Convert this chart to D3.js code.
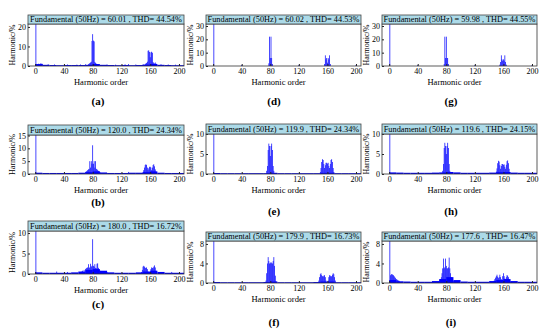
<!DOCTYPE html>
<html lang="en">
<head>
  <meta charset="utf-8">
  <title>Harmonic spectra</title>
  <script src="https://cdn.jsdelivr.net/npm/d3@7"></script>
  <style>
    body { margin: 0; background: #fff; }
    svg text { font-family: "Liberation Serif", "Times New Roman", serif; fill: #000; }
  </style>
</head>
<body>
<div id="chart"></div>
<script>

// panel ids and header texts (left column a-c, middle d-f, right g-i)
var panelIds = ["a", "b", "c", "d", "e", "f", "g", "h", "i"];
var titleTexts = [
  "Fundamental (50Hz) = 60.01 , THD= 44.54%",
  "Fundamental (50Hz) = 120.0 , THD= 24.34%",
  "Fundamental (50Hz) = 180.0 , THD= 16.72%",
  "Fundamental (50Hz) = 60.02 , THD= 44.53%",
  "Fundamental (50Hz) = 119.9 , THD= 24.34%",
  "Fundamental (50Hz) = 179.9 , THD= 16.73%",
  "Fundamental (50Hz) = 59.98 , THD= 44.55%",
  "Fundamental (50Hz) = 119.6 , THD= 24.15%",
  "Fundamental (50Hz) = 177.6 , THD= 16.47%"
];
var xTicks = [0, 40, 80, 120, 160, 200];
var yTicks = [[0, 10, 20], [0, 5, 10, 15], [0, 5, 10], [0, 10, 20, 30], [0, 5, 10], [0, 4, 8], [0, 10, 20, 30], [0, 5, 10], [0, 4, 8]];
var yTops = [21.5, 15.2, 10.5, 31.5, 10, 8.6, 31.5, 10, 8.6];

// noise floor, one value per 10 harmonic orders (0-10, 10-20, ... 200-210)
var floorA = [1.0, 0.6, 0.5, 0.4, 0.5, 0.5, 0.5, 0.6, 1.0, 0.6, 0.5, 0.4, 0.5, 0.4, 0.5, 0.7, 1.0, 0.6, 0.5, 0.4, 0.4];
var floorB = [0.5, 0.4, 0.4, 0.4, 0.4, 0.4, 0.5, 0.7, 1.0, 0.6, 0.4, 0.4, 0.4, 0.5, 0.5, 0.7, 1.0, 0.5, 0.4, 0.4, 0.4];
var floorC = [0.4, 0.3, 0.3, 0.3, 0.3, 0.4, 0.6, 1.0, 1.2, 0.8, 0.4, 0.3, 0.3, 0.3, 0.4, 0.6, 0.8, 0.5, 0.3, 0.3, 0.3];
var floorD = [0, 0, 0, 0, 0, 0, 0, 0, 0, 0, 0, 0, 0, 0, 0, 0, 0, 0, 0, 0, 0];
var floorE = [0.25, 0.2, 0.2, 0.2, 0.2, 0.2, 0.2, 0.2, 0.3, 0.2, 0.2, 0.2, 0.2, 0.2, 0.2, 0.3, 0.3, 0.2, 0.2, 0.2, 0.2];
var floorF = [0.2, 0.15, 0.15, 0.15, 0.15, 0.15, 0.15, 0.2, 0.3, 0.15, 0.15, 0.15, 0.15, 0.15, 0.2, 0.3, 0.3, 0.15, 0.15, 0.15, 0.15];
var floorG = [0, 0, 0, 0, 0, 0, 0, 0, 0, 0, 0, 0, 0, 0, 0, 0, 0, 0, 0, 0, 0];
var floorH = [0.4, 0.35, 0.3, 0.3, 0.3, 0.3, 0.35, 0.4, 0.5, 0.4, 0.3, 0.3, 0.3, 0.3, 0.35, 0.45, 0.5, 0.35, 0.3, 0.3, 0.3];
var floorI = [0.6, 0.35, 0.3, 0.25, 0.25, 0.25, 0.4, 0.8, 1.2, 0.6, 0.3, 0.25, 0.25, 0.25, 0.4, 0.6, 0.8, 0.4, 0.25, 0.25, 0.25];

// spectra: [harmonic order, magnitude in %]
var specA = [[1, 100], [5, 1.2], [8, 1.5], [10, 1.1], [18, 0.9], [27, 0.8], [45, 0.8], [58, 0.7], [63, 0.8], [70, 0.9],
  [74, 0.9], [75, 1.1], [76, 1.5], [77, 1.8], [78, 2.2], [79, 12.8], [80, 16.3], [81, 13], [82, 12.6], [83, 2.1], [84, 1.6], [85, 1.2], [86, 0.9],
  [100, 0.8], [112, 0.7], [125, 0.9], [130, 1.0], [140, 0.8], [150, 0.9],
  [153, 1.0], [154, 1.3], [155, 1.6], [156, 2.2], [157, 7.8], [158, 8.0], [159, 7.2], [160, 4.5], [161, 7.0], [162, 7.3], [163, 6.8],
  [164, 2.0], [165, 1.5], [166, 1.3], [167, 1.8], [168, 1.2], [175, 0.9], [185, 0.8], [195, 0.7]];
var specB = [[1, 100], [130, 0.8],
  [70, 0.8], [71, 1.0], [72, 1.2], [73, 1.5], [74, 1.8], [75, 2.0], [76, 5.0], [77, 2.5], [78, 5.0], [79, 4.0], [80, 11.2],
  [81, 4.0], [82, 5.0], [83, 2.5], [84, 5.0], [85, 2.0], [86, 1.8], [87, 1.5], [88, 1.2], [89, 1.0], [90, 0.8],
  [150, 0.8], [151, 1.5], [152, 2.5], [153, 3.5], [154, 3.8], [155, 3.5], [156, 2.5], [157, 1.5], [158, 2.2], [159, 2.8],
  [160, 2.8], [161, 2.5], [162, 1.5], [163, 2.5], [164, 3.5], [165, 3.8], [166, 3.0], [167, 1.8], [168, 1.0]];
var specC = [[1, 100], [30, 0.6], [45, 0.5], [62, 0.5], [64, 0.6], [66, 0.8], [68, 1.0],
  [70, 1.2], [71, 1.4], [72, 1.5], [73, 1.6], [74, 2.4], [75, 1.5], [76, 1.6], [77, 2.5], [78, 1.8], [79, 2.0], [80, 8.5],
  [81, 2.0], [82, 1.8], [83, 2.4], [84, 1.5], [85, 1.4], [86, 2.5], [87, 2.6], [88, 1.5], [89, 1.0], [90, 0.8], [92, 0.6], [100, 0.5],
  [148, 0.5], [149, 1.0], [150, 1.8], [151, 2.0], [152, 1.8], [153, 1.5], [154, 1.5], [155, 1.6], [156, 1.2], [157, 0.6],
  [158, 0.5], [160, 0.6], [161, 1.2], [162, 1.6], [163, 1.5], [164, 1.4], [165, 1.8], [166, 2.1], [167, 1.6], [168, 0.8], [190, 0.5]];
var specD = [[1, 100], [40, 0.8], [120, 0.8], [200, 0.8],
  [78, 2.0], [79, 22], [80, 6.0], [81, 22], [82, 6.0], [83, 1.5],
  [156, 1.5], [157, 8.0], [158, 5.0], [159, 6.0], [160, 2.5], [161, 6.0], [162, 5.0], [163, 8.0], [164, 1.5]];
var specE = [[1, 100],
  [75, 0.8], [76, 2.0], [77, 6.0], [78, 7.6], [79, 7.0], [80, 4.5], [81, 7.0], [82, 7.6], [83, 6.0], [84, 2.0], [85, 0.8],
  [150, 0.5], [151, 1.5], [152, 3.0], [153, 3.7], [154, 3.5], [155, 2.5], [156, 1.5], [157, 2.2], [158, 2.8], [159, 2.8],
  [160, 2.6], [161, 2.8], [162, 2.0], [163, 1.5], [164, 2.5], [165, 3.5], [166, 3.7], [167, 3.0], [168, 1.5], [169, 0.5]];
var specF = [[1, 100],
  [74, 0.5], [75, 2.0], [76, 4.0], [77, 5.3], [78, 4.5], [79, 4.0], [80, 4.2], [81, 4.0], [82, 4.2], [83, 4.0], [84, 4.5],
  [85, 5.3], [86, 3.5], [87, 1.5], [88, 0.4],
  [148, 0.5], [149, 1.2], [150, 1.8], [151, 2.0], [152, 1.6], [153, 1.4], [154, 1.3], [155, 1.5], [156, 1.6], [157, 1.2],
  [158, 0.5], [161, 0.5], [162, 1.2], [163, 1.6], [164, 1.5], [165, 1.3], [166, 1.4], [167, 1.7], [168, 2.0], [169, 1.8],
  [170, 1.2], [171, 0.5]];
var specG = [[1, 100], [40, 0.7], [120, 0.7], [200, 0.7],
  [77, 1.5], [78, 22], [79, 6.0], [80, 22], [81, 6.0], [82, 6.0], [83, 1.5],
  [155, 1.0], [156, 3.0], [157, 8.0], [158, 5.0], [159, 4.0], [160, 5.0], [161, 4.0], [162, 8.0], [163, 3.0], [164, 1.0]];
var specH = [[1, 100],
  [75, 0.8], [76, 2.5], [77, 6.5], [78, 7.8], [79, 7.0], [80, 5.0], [81, 7.0], [82, 7.8], [83, 6.5], [84, 2.5], [85, 0.8],
  [150, 0.6], [151, 1.4], [152, 2.7], [153, 3.3], [154, 3.1], [155, 2.2], [156, 1.3], [157, 2.0], [158, 2.5], [159, 2.5],
  [160, 2.3], [161, 2.4], [162, 1.8], [163, 1.3], [164, 2.3], [165, 3.2], [166, 3.4], [167, 2.7], [168, 1.3], [169, 0.5]];
var specI = [[1, 100],
  [2, 1.6], [3, 1.8], [4, 1.8], [5, 1.7], [6, 1.6], [7, 1.4], [8, 1.2], [9, 1.0], [10, 0.8], [11, 0.7], [12, 0.6], [13, 0.5], [14, 0.45],
  [70, 0.4], [71, 0.6], [72, 0.8], [73, 1.2], [74, 2.0], [75, 3.0], [76, 5.0], [77, 3.0], [78, 3.2], [79, 5.0], [80, 3.5],
  [81, 3.0], [82, 3.0], [83, 3.2], [84, 5.2], [85, 3.0], [86, 2.0], [87, 1.2], [88, 0.8], [89, 0.6], [90, 0.4],
  [146, 0.3], [147, 0.5], [148, 0.8], [149, 1.1], [150, 1.4], [151, 1.7], [152, 1.3], [153, 1.0], [154, 1.2], [155, 1.7],
  [156, 1.2], [157, 0.8], [158, 0.6], [159, 1.4], [160, 2.0], [161, 1.4], [162, 0.9], [163, 0.8], [164, 1.2], [165, 1.6],
  [166, 1.5], [167, 1.2], [168, 0.7], [169, 0.4], [170, 0.3]];

var specs = [specA, specB, specC, specD, specE, specF, specG, specH, specI];
var floors = [floorA, floorB, floorC, floorD, floorE, floorF, floorG, floorH, floorI];

// where each panel sits on the page
var boxes = [
  {x0: 28,  x1: 184, top: 15,  tb: 24,  bottom: 66,  lx: 98,  ly: 101},
  {x0: 28,  x1: 184, top: 125, tb: 135, bottom: 174, lx: 98,  ly: 202},
  {x0: 28,  x1: 184, top: 221, tb: 231, bottom: 274, lx: 98,  ly: 304},
  {x0: 206, x1: 361, top: 15,  tb: 24,  bottom: 66,  lx: 274, ly: 101},
  {x0: 206, x1: 361, top: 124, tb: 134, bottom: 174, lx: 274, ly: 211},
  {x0: 206, x1: 361, top: 232, tb: 241, bottom: 283, lx: 274, ly: 322},
  {x0: 382, x1: 537, top: 15,  tb: 24,  bottom: 66,  lx: 451, ly: 101},
  {x0: 382, x1: 537, top: 124, tb: 134, bottom: 174, lx: 451, ly: 211},
  {x0: 382, x1: 537, top: 232, tb: 241, bottom: 283, lx: 451, ly: 322}
];

var svg = d3.select("#chart")
  .append("svg")
    .attr("width", 550)
    .attr("height", 336);

panelIds.forEach(function(id, i) {
  var b = boxes[i];
  var w = b.x1 - b.x0;

  var x = d3.scaleLinear().domain([-10, 207]).range([b.x0, b.x1]);
  var y = d3.scaleLinear().domain([0, yTops[i]]).range([b.bottom, b.tb]);

  var g = svg.append("g");

  // clip bars to the plot area (fundamental goes off the top)
  svg.append("clipPath").attr("id", "clip-" + id)
    .append("rect")
      .attr("x", b.x0).attr("y", b.tb)
      .attr("width", w).attr("height", b.bottom - b.tb);

  var plot = g.append("g").attr("clip-path", "url(#clip-" + id + ")");

  plot.selectAll("rect.floor")
    .data(floors[i])
    .enter()
    .append("rect")
      .attr("class", "floor")
      .attr("x", function(d, k) { return x(k * 10); })
      .attr("width", x(10) - x(0))
      .attr("y", function(d) { return y(d); })
      .attr("height", function(d) { return y(0) - y(d); })
      .attr("fill", "#0000ff");

  plot.selectAll("rect.bar")
    .data(specs[i])
    .enter()
    .append("rect")
      .attr("class", "bar")
      .attr("x", function(d) { return x(d[0] - 0.5); })
      .attr("width", x(1) - x(0))
      .attr("y", function(d) { return y(d[1]); })
      .attr("height", function(d) { return y(0) - y(d[1]); })
      .attr("fill", "#0000ff");

  // axes, ticks pointing inwards
  var xa = g.append("g")
    .attr("transform", "translate(0," + b.bottom + ")")
    .call(d3.axisBottom(x).tickValues(xTicks).tickSizeInner(-2).tickSizeOuter(0).tickPadding(2));
  var ya = g.append("g")
    .attr("transform", "translate(" + b.x0 + ",0)")
    .call(d3.axisLeft(y).tickValues(yTicks[i]).tickSizeInner(-2).tickSizeOuter(0).tickPadding(2));
  [xa, ya].forEach(function(a) {
    a.select(".domain").remove();
    a.attr("font-family", null).attr("font-size", null);
    a.selectAll("line").attr("stroke", "#222");
    a.selectAll("text").style("font-size", "8px");
  });

  // plot frame
  g.append("rect")
    .attr("x", b.x0).attr("y", b.tb)
    .attr("width", w).attr("height", b.bottom - b.tb)
    .attr("fill", "none")
    .attr("stroke", "#333")
    .attr("stroke-width", 0.8);

  // header box
  g.append("rect")
    .attr("x", b.x0).attr("y", b.top)
    .attr("width", w).attr("height", b.tb - b.top)
    .attr("fill", "#acdae8")
    .attr("stroke", "#444")
    .attr("stroke-width", 0.8);
  g.append("text")
    .attr("x", b.x0 + w / 2)
    .attr("y", (b.top + b.tb) / 2)
    .attr("dy", "0.35em")
    .attr("text-anchor", "middle")
    .style("font-size", "8.3px")
    .text(titleTexts[i]);

  g.append("text")
    .attr("transform", "translate(" + (b.x0 - 16) + "," + ((b.tb + b.bottom) / 2) + ") rotate(-90)")
    .attr("dy", "0.35em")
    .attr("text-anchor", "middle")
    .style("font-size", "8px")
    .text("Harmonic/%");

  g.append("text")
    .attr("x", b.x0 + w / 2 - 5)
    .attr("y", b.bottom + 19)
    .attr("text-anchor", "middle")
    .style("font-size", "8.5px")
    .text("Harmonic order");

  g.append("text")
    .attr("x", b.lx)
    .attr("y", b.ly)
    .attr("dy", "0.35em")
    .attr("text-anchor", "middle")
    .style("font-size", "11px")
    .style("font-weight", "bold")
    .text("(" + id + ")");
});

</script>
</body>
</html>
